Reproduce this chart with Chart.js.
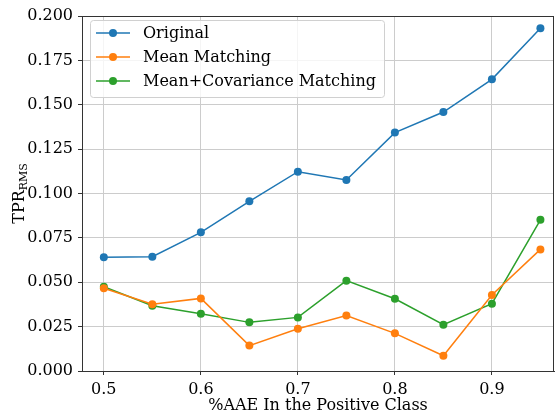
<!DOCTYPE html>
<html lang="en">
<head>
    <meta charset="UTF-8">
    <title>TPR RMS vs %AAE</title>
    <script src="https://cdn.jsdelivr.net/npm/chart.js"></script>
    <style>
        body { margin: 0; background: #ffffff; }
        .wrap { width: 558px; height: 415px; }
    </style>
</head>
<body>
    <div class="wrap"><canvas id="chart" width="558" height="415"></canvas></div>
    <script>
        // data
        const aaeShare = [0.5, 0.55, 0.6, 0.65, 0.7, 0.75, 0.8, 0.85, 0.9, 0.95];
        const original = [0.0641, 0.0644, 0.0781, 0.0956, 0.1123, 0.1076, 0.1343, 0.1459, 0.1643, 0.1931];
        const meanMatching = [0.0466, 0.0376, 0.0409, 0.0143, 0.0238, 0.0312, 0.0212, 0.0086, 0.0428, 0.0685];
        const meanCovMatching = [0.0475, 0.0368, 0.0323, 0.0274, 0.0302, 0.0509, 0.0407, 0.0261, 0.0379, 0.0852];
        const seriesNames = ['Original', 'Mean Matching', 'Mean+Covariance Matching'];
        const seriesColors = ['#1f77b4', '#ff7f0e', '#2ca02c'];
        const xTicks = [0.5, 0.6, 0.7, 0.8, 0.9];
        const yTicks = [0, 0.025, 0.05, 0.075, 0.1, 0.125, 0.15, 0.175, 0.2];

        const serif = 'DejaVu Serif, serif';

        function toPoints(values) {
            return values.map((v, i) => ({ x: aaeShare[i], y: v }));
        }

        const datasets = [original, meanMatching, meanCovMatching].map((vals, i) => ({
            label: seriesNames[i],
            data: toPoints(vals),
            borderColor: seriesColors[i],
            backgroundColor: seriesColors[i],
            borderWidth: 1.5,
            pointRadius: 4,
            pointHoverRadius: 4,
            pointBorderWidth: 0,
            tension: 0
        }));

        // frame, y title with subscript and legend inside the plot
        const extras = {
            id: 'extras',
            afterDraw(chart) {
                const ctx = chart.ctx;
                const a = chart.chartArea;
                ctx.save();
                ctx.strokeStyle = '#333333';
                ctx.lineWidth = 1;
                ctx.strokeRect(a.left + 0.5, a.top + 0.5, a.right - a.left - 1, a.bottom - a.top);

                // y axis title: TPR_RMS
                ctx.translate(19, (a.top + a.bottom) / 2);
                ctx.rotate(-Math.PI / 2);
                ctx.fillStyle = '#000';
                ctx.textBaseline = 'alphabetic';
                ctx.font = '16px ' + serif;
                const w1 = ctx.measureText('TPR').width;
                ctx.font = '11px ' + serif;
                const w2 = ctx.measureText('RMS').width;
                const x0 = -(w1 + w2) / 2;
                ctx.font = '16px ' + serif;
                ctx.fillText('TPR', x0, 5);
                ctx.font = '11px ' + serif;
                ctx.fillText('RMS', x0 + w1, 8);
                ctx.restore();

                // legend
                ctx.save();
                const bx = 90, by = 20, bw = 294, bh = 77;
                ctx.fillStyle = 'rgba(255,255,255,0.8)';
                ctx.strokeStyle = '#d0d0d0';
                ctx.lineWidth = 1;
                ctx.beginPath();
                ctx.roundRect(bx + 0.5, by + 0.5, bw, bh, 3);
                ctx.fill();
                ctx.stroke();
                ctx.font = '16px ' + serif;
                ctx.textBaseline = 'middle';
                seriesNames.forEach((name, i) => {
                    const y = by + 13 + i * 24;
                    ctx.strokeStyle = seriesColors[i];
                    ctx.fillStyle = seriesColors[i];
                    ctx.lineWidth = 1.5;
                    ctx.beginPath();
                    ctx.moveTo(96, y);
                    ctx.lineTo(130, y);
                    ctx.stroke();
                    ctx.beginPath();
                    ctx.arc(113, y, 4, 0, Math.PI * 2);
                    ctx.fill();
                    ctx.fillStyle = '#000';
                    ctx.fillText(name, 143, y + 1);
                });
                ctx.restore();
            }
        };

        new Chart(document.getElementById('chart'), {
            type: 'line',
            data: { datasets: datasets },
            options: {
                responsive: false,
                animation: false,
                layout: { padding: { top: 16, right: 1, left: 0, bottom: 0 } },
                plugins: {
                    legend: { display: false },
                    tooltip: { enabled: false }
                },
                scales: {
                    x: {
                        type: 'linear',
                        min: 0.4775,
                        max: 0.964,
                        afterBuildTicks: s => { s.ticks = xTicks.map(v => ({ value: v })); },
                        afterFit: s => { s.height = 44; },
                        ticks: {
                            color: '#000',
                            font: { family: serif, size: 16 },
                            padding: 5,
                            callback: v => v.toFixed(1)
                        },
                        grid: { color: '#cccccc', lineWidth: 1, tickColor: '#333', tickLength: 4 },
                        border: { color: '#333', width: 1 },
                        title: {
                            display: true,
                            text: '%AAE In the Positive Class',
                            color: '#000',
                            font: { family: serif, size: 16 },
                            padding: { top: 0, bottom: 0 }
                        }
                    },
                    y: {
                        min: 0,
                        max: 0.2,
                        afterBuildTicks: s => { s.ticks = yTicks.map(v => ({ value: v })); },
                        afterFit: s => { s.width = 82; },
                        ticks: {
                            color: '#000',
                            font: { family: serif, size: 16 },
                            padding: 5,
                            callback: v => v.toFixed(3)
                        },
                        grid: { color: '#cccccc', lineWidth: 1, tickColor: '#333', tickLength: 4 },
                        border: { color: '#333', width: 1 }
                    }
                }
            },
            plugins: [extras]
        });
    </script>
</body>
</html>
